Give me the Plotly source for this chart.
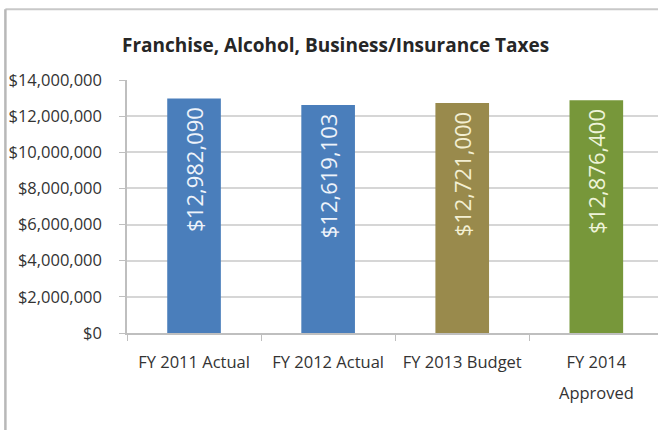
import plotly.graph_objects as go

# Tax revenue by fiscal year
categories = ["FY 2011 Actual", "FY 2012 Actual", "FY 2013 Budget", "FY 2014 Approved"]
tick_line1 = ["FY 2011 Actual", "FY 2012 Actual", "FY 2013 Budget", "FY 2014"]
tick_line2 = ["", "", "", "Approved"]
values = [12982090, 12619103, 12721000, 12876400]
bar_colors = ["#4a7ebb", "#4a7ebb", "#998a4c", "#77973a"]
text_colors = ["#eef3fa", "#eef3fa", "#f3efd2", "#eef3d8"]

y_tickvals = [0, 2000000, 4000000, 6000000, 8000000, 10000000, 12000000, 14000000]
y_ticktext = ["$0", "$2,000,000", "$4,000,000", "$6,000,000", "$8,000,000",
              "$10,000,000", "$12,000,000", "$14,000,000"]

FONT = "Open Sans"
TICK_FONT = dict(family=FONT, size=16.5, color="#333333")

fig = go.Figure(go.Bar(
    x=categories,
    y=values,
    marker=dict(color=bar_colors, line=dict(width=0)),
    text=[f"${v:,}\u00a0" for v in values],
    textposition="inside",
    insidetextanchor="end",
    textangle=-90,
    textfont=dict(family=FONT, size=22, color=text_colors),
    cliponaxis=False,
))

# second line of the wrapped category labels, set with the wider Excel-like spacing
annotations = [
    dict(x=cat, xref="x", y=-0.237, yref="paper", text=line2, showarrow=False,
         xanchor="center", yanchor="middle", font=TICK_FONT)
    for cat, line2 in zip(categories, tick_line2) if line2
]

fig.update_layout(
    width=658, height=430,
    margin=dict(l=127, r=0, t=80, b=97),
    paper_bgcolor="white",
    plot_bgcolor="white",
    bargap=0.6,
    showlegend=False,
    title=dict(
        text="<b>Franchise, Alcohol, Business/Insurance Taxes</b>",
        x=0.51, xanchor="center", y=0.895, yanchor="middle",
        font=dict(family=FONT, size=19, color="#262626"),
    ),
    xaxis=dict(
        range=[-0.5, 3.46],
        tickvals=categories, ticktext=tick_line1,
        showline=True, linecolor="#bfbfbf", linewidth=1.5,
        ticks="outside", tickson="boundaries", ticklen=6, tickcolor="#bfbfbf",
        tickfont=TICK_FONT,
        ticklabelstandoff=13,
        showgrid=False,
        fixedrange=True,
    ),
    yaxis=dict(
        range=[0, 14000000],
        tickvals=y_tickvals, ticktext=y_ticktext,
        showline=True, linecolor="#bfbfbf", linewidth=1.5,
        ticks="outside", ticklen=6, tickcolor="#bfbfbf",
        showgrid=True, gridcolor="#d6d6d6", gridwidth=2,
        tickfont=TICK_FONT,
        ticklabelstandoff=14,
        zeroline=False,
    ),
    annotations=annotations,
    shapes=[
        dict(type="line", xref="paper", yref="paper", x0=-0.229, x1=1.0,
             y0=1.28, y1=1.28, line=dict(color="#c8c8c8", width=2)),
        dict(type="line", xref="paper", yref="paper", x0=-0.229, x1=-0.229,
             y0=1.28, y1=-0.383, line=dict(color="#b8b8b8", width=2.5)),
    ],
)

fig.write_html("out.html")
